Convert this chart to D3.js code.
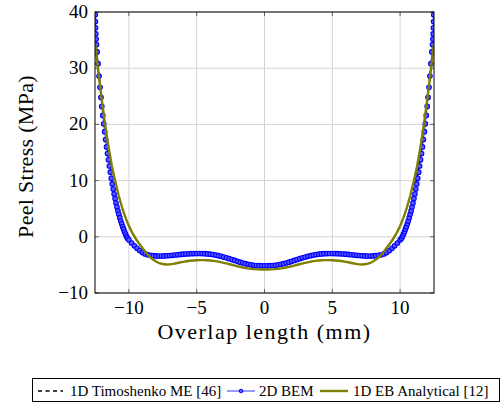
<!DOCTYPE html>
<html lang="en">
<head>
<meta charset="UTF-8">
<title>Peel Stress</title>
<script src="https://cdn.jsdelivr.net/npm/d3@7/dist/d3.min.js"></script>
<style>
body {
    margin: 0;
    background-color: #fff;
}
svg {
    display: block;
    font-family: "Liberation Serif", "DejaVu Serif", serif;
}
</style>
</head>
<body>
<div id="plot"></div>
<script>

// ---- data ----
const xTicks = [-10, -5, 0, 5, 10];
const yTicks = [-10, 0, 10, 20, 30, 40];

// shared x grid for the two analytical curves (mm)
const gridX = [-12.5,-12.25,-12,-11.75,-11.5,-11.25,-11,-10.75,-10.5,-10.25,-10,-9.75,-9.5,-9.25,-9,-8.75,-8.5,-8.25,-8,-7.75,-7.5,-7.25,-7,-6.75,-6.5,-6.25,-6,-5.75,-5.5,-5.25,-5,-4.75,-4.5,-4.25,-4,-3.75,-3.5,-3.25,-3,-2.75,-2.5,-2.25,-2,-1.75,-1.5,-1.25,-1,-0.75,-0.5,-0.25,
    0,0.25,0.5,0.75,1,1.25,1.5,1.75,2,2.25,2.5,2.75,3,3.25,3.5,3.75,4,4.25,4.5,4.75,5,5.25,5.5,5.75,6,6.25,6.5,6.75,7,7.25,7.5,7.75,8,8.25,8.5,8.75,9,9.25,9.5,9.75,10,10.25,10.5,10.75,11,11.25,11.5,11.75,12,12.25,12.5];

// 1D Timoshenko ME [46] (MPa)
const timoshenko = [35.0,29.9,24.2,19.3,14.8,10.8,7.4,4.7,2.6,1.0,-0.2,-1.05,-1.75,-2.3,-2.72,-3.02,-3.22,-3.33,-3.4,-3.42,-3.41,-3.38,-3.33,-3.27,-3.21,-3.15,-3.1,-3.05,-3.01,-2.98,-2.97,-2.97,-2.99,-3.02,-3.1,-3.19,-3.3,-3.43,-3.6,-3.79,-3.97,-4.17,-4.37,-4.56,-4.73,-4.87,-4.99,-5.08,-5.13,-5.16,
    -5.17,-5.16,-5.13,-5.08,-4.99,-4.87,-4.73,-4.56,-4.37,-4.17,-3.97,-3.79,-3.6,-3.43,-3.3,-3.19,-3.1,-3.02,-2.99,-2.97,-2.97,-2.98,-3.01,-3.05,-3.1,-3.15,-3.21,-3.27,-3.33,-3.38,-3.41,-3.42,-3.4,-3.33,-3.22,-3.02,-2.72,-2.3,-1.75,-1.05,-0.2,1.0,2.6,4.7,7.4,10.8,14.8,19.3,24.2,29.9,35.0];

// 1D EB Analytical [12] (MPa)
const ebAnalytical = [34.5,29.2,24.4,19.9,15.9,12.5,9.8,7.3,5.2,3.4,1.9,0.7,-0.3,-1.2,-2.0,-2.8,-3.5,-4.0,-4.4,-4.7,-4.85,-4.92,-4.9,-4.82,-4.7,-4.57,-4.45,-4.35,-4.27,-4.21,-4.17,-4.15,-4.15,-4.17,-4.22,-4.29,-4.38,-4.5,-4.63,-4.78,-4.93,-5.09,-5.24,-5.38,-5.5,-5.61,-5.69,-5.75,-5.79,-5.81,
    -5.82,-5.81,-5.79,-5.75,-5.69,-5.61,-5.5,-5.38,-5.24,-5.09,-4.93,-4.78,-4.63,-4.5,-4.38,-4.29,-4.22,-4.17,-4.15,-4.15,-4.17,-4.21,-4.27,-4.35,-4.45,-4.57,-4.7,-4.82,-4.9,-4.92,-4.85,-4.7,-4.4,-4.0,-3.5,-2.8,-2.0,-1.2,-0.3,0.7,1.9,3.4,5.2,7.3,9.8,12.5,15.9,19.9,24.4,29.2,34.5];

// 2D BEM nodes (mm) and values (MPa)
const bemX = [-12.5,-12.495,-12.49,-12.485,-12.48,-12.47,-12.46,-12.44,-12.42,-12.39,-12.34,-12.27,-12.2,-12.13,-12.06,-12,-11.93,-11.86,-11.79,-11.72,-11.65,-11.58,-11.51,-11.44,-11.37,-11.3,-11.23,-11.16,-11.09,-11.02,-10.95,-10.88,-10.81,-10.74,-10.67,-10.6,-10.53,-10.46,-10.39,-10.32,-10.25,-10.18,-10.11,
    -10,-9.8,-9.6,-9.4,-9.2,-9,-8.8,-8.6,-8.4,-8.2,-8,-7.8,-7.6,-7.4,-7.2,-7,-6.8,-6.6,-6.4,-6.2,-6,-5.8,-5.6,-5.4,-5.2,-5,-4.8,-4.6,-4.4,-4.2,-4,-3.8,-3.6,-3.4,-3.2,-3,-2.8,-2.6,-2.4,-2.2,-2,-1.8,-1.6,-1.4,-1.2,-1,-0.8,-0.6,-0.4,-0.2,
    0,0.2,0.4,0.6,0.8,1,1.2,1.4,1.6,1.8,2,2.2,2.4,2.6,2.8,3,3.2,3.4,3.6,3.8,4,4.2,4.4,4.6,4.8,5,5.2,5.4,5.6,5.8,6,6.2,6.4,6.6,6.8,7,7.2,7.4,7.6,7.8,8,8.2,8.4,8.6,8.8,9,9.2,9.4,9.6,9.8,10,
    10.11,10.18,10.25,10.32,10.39,10.46,10.53,10.6,10.67,10.74,10.81,10.88,10.95,11.02,11.09,11.16,11.23,11.3,11.37,11.44,11.51,11.58,11.65,11.72,11.79,11.86,11.93,12,12.06,12.13,12.2,12.27,12.34,12.39,12.42,12.44,12.46,12.47,12.48,12.485,12.49,12.495,12.5];
const bemY = [55,47,43.5,41,39.5,38.3,37.2,36.1,35.2,34.2,32.9,30.8,28.6,26.6,24.8,23.2,21.6,20.1,18.7,17.3,16.0,14.8,13.7,12.6,11.5,10.4,9.4,8.5,7.6,6.8,6.0,5.3,4.6,4.0,3.4,2.8,2.3,1.8,1.35,0.9,0.5,0.1,-0.25,
    -0.55,-1.1,-1.6,-2.05,-2.45,-2.8,-3.05,-3.2,-3.3,-3.35,-3.4,-3.42,-3.42,-3.4,-3.37,-3.33,-3.29,-3.24,-3.19,-3.14,-3.1,-3.06,-3.03,-3.0,-2.98,-2.97,-2.97,-2.98,-3.0,-3.04,-3.1,-3.17,-3.25,-3.35,-3.47,-3.6,-3.74,-3.89,-4.05,-4.21,-4.37,-4.52,-4.66,-4.79,-4.9,-4.99,-5.06,-5.11,-5.14,-5.16,
    -5.17,-5.16,-5.14,-5.11,-5.06,-4.99,-4.9,-4.79,-4.66,-4.52,-4.37,-4.21,-4.05,-3.89,-3.74,-3.6,-3.47,-3.35,-3.25,-3.17,-3.1,-3.04,-3.0,-2.98,-2.97,-2.97,-2.98,-3.0,-3.03,-3.06,-3.1,-3.14,-3.19,-3.24,-3.29,-3.33,-3.37,-3.4,-3.42,-3.42,-3.4,-3.35,-3.3,-3.2,-3.05,-2.8,-2.45,-2.05,-1.6,-1.1,-0.55,
    -0.25,0.1,0.5,0.9,1.35,1.8,2.3,2.8,3.4,4.0,4.6,5.3,6.0,6.8,7.6,8.5,9.4,10.4,11.5,12.6,13.7,14.8,16.0,17.3,18.7,20.1,21.6,23.2,24.8,26.6,28.6,30.8,32.9,34.2,35.2,36.1,37.2,38.3,39.5,41,43.5,47,55];

const legendLabels = ["1D Timoshenko ME [46]", "2D BEM", "1D EB Analytical [12]"];

// ---- layout ----
const w = 502,
      h = 408;
const pLeft = 95, pRight = 434, pTop = 12, pBottom = 293;

const svg = d3.select("#plot").append("svg")
    .attr("width", w)
    .attr("height", h);

const x = d3.scaleLinear().domain([-12.5, 12.5]).range([pLeft, pRight]);
const y = d3.scaleLinear().domain([-10, 40]).range([pBottom, pTop]);

const fmt = (d) => d < 0 ? "\u2212" + Math.abs(d) : String(d);

// grid
svg.append("g")
    .selectAll("line")
    .data(xTicks)
    .join("line")
    .attr("x1", d => x(d)).attr("x2", d => x(d))
    .attr("y1", pTop).attr("y2", pBottom)
    .attr("stroke", "#d4d4d4");
svg.append("g")
    .selectAll("line")
    .data(yTicks)
    .join("line")
    .attr("x1", pLeft).attr("x2", pRight)
    .attr("y1", d => y(d)).attr("y2", d => y(d))
    .attr("stroke", "#d4d4d4");

// inward ticks on all four sides
const tk = svg.append("g").attr("stroke", "#666");
xTicks.forEach(d => {
    tk.append("line").attr("x1", x(d)).attr("x2", x(d)).attr("y1", pBottom).attr("y2", pBottom - 4);
    tk.append("line").attr("x1", x(d)).attr("x2", x(d)).attr("y1", pTop).attr("y2", pTop + 4);
});
yTicks.forEach(d => {
    tk.append("line").attr("x1", pLeft).attr("x2", pLeft + 4).attr("y1", y(d)).attr("y2", y(d));
    tk.append("line").attr("x1", pRight).attr("x2", pRight - 4).attr("y1", y(d)).attr("y2", y(d));
});

// tick labels
svg.append("g")
    .selectAll("text")
    .data(xTicks)
    .join("text")
    .attr("x", d => x(d))
    .attr("y", pBottom + 21)
    .attr("text-anchor", "middle")
    .attr("font-size", 19)
    .text(fmt);
svg.append("g")
    .selectAll("text")
    .data(yTicks)
    .join("text")
    .attr("x", pLeft - 7)
    .attr("y", d => y(d) + 6)
    .attr("text-anchor", "end")
    .attr("font-size", 19)
    .text(fmt);

// axis titles
svg.append("text")
    .attr("x", (pLeft + pRight) / 2)
    .attr("y", 339)
    .attr("text-anchor", "middle")
    .attr("font-size", 22)
    .attr("letter-spacing", 1.5)
    .text("Overlap length (mm)");
svg.append("text")
    .attr("transform", `translate(33,${(pTop + pBottom) / 2 + 4}) rotate(-90)`)
    .attr("text-anchor", "middle")
    .attr("font-size", 22)
    .attr("letter-spacing", 0.3)
    .text("Peel Stress (MPa)");

// curves, clipped to the plot box
svg.append("clipPath").attr("id", "clip")
    .append("rect")
    .attr("x", pLeft).attr("y", pTop)
    .attr("width", pRight - pLeft).attr("height", pBottom - pTop);

const plot = svg.append("g").attr("clip-path", "url(#clip)");

const line = d3.line()
    .x(d => x(d[0]))
    .y(d => y(d[1]));

plot.append("path")
    .datum(d3.zip(gridX, timoshenko))
    .attr("d", line)
    .attr("fill", "none")
    .attr("stroke", "#000")
    .attr("stroke-width", 1.6)
    .attr("stroke-dasharray", "3.5,3");

const bem = d3.zip(bemX, bemY);
plot.append("path")
    .datum(bem)
    .attr("d", line)
    .attr("fill", "none")
    .attr("stroke", "#0000ff")
    .attr("stroke-width", 0.8);
plot.append("g")
    .selectAll("circle")
    .data(bem)
    .join("circle")
    .attr("cx", d => x(d[0]))
    .attr("cy", d => y(d[1]))
    .attr("r", 2.3)
    .attr("fill", "#5c5cff")
    .attr("stroke", "#0000ff")
    .attr("stroke-width", 1.1);

plot.append("path")
    .datum(d3.zip(gridX, ebAnalytical))
    .attr("d", line)
    .attr("fill", "none")
    .attr("stroke", "#808000")
    .attr("stroke-width", 2.4);

// frame
svg.append("rect")
    .attr("x", pLeft).attr("y", pTop)
    .attr("width", pRight - pLeft).attr("height", pBottom - pTop)
    .attr("fill", "none")
    .attr("stroke", "#000")
    .attr("stroke-width", 1);

// legend
const lg = svg.append("g").attr("font-size", 15);
lg.append("rect")
    .attr("x", 32.5).attr("y", 378.5)
    .attr("width", 467).attr("height", 23)
    .attr("fill", "#fff")
    .attr("stroke", "#000");
const ly = 391;
lg.append("line").attr("x1", 38).attr("x2", 63).attr("y1", ly).attr("y2", ly)
    .attr("stroke", "#000").attr("stroke-width", 1.6).attr("stroke-dasharray", "4,3.5");
lg.append("text").attr("x", 70).attr("y", ly + 5).text(legendLabels[0]);
lg.append("line").attr("x1", 227).attr("x2", 255).attr("y1", ly).attr("y2", ly)
    .attr("stroke", "#0000ff").attr("stroke-width", 0.8);
lg.append("circle").attr("cx", 241).attr("cy", ly).attr("r", 1.8)
    .attr("fill", "#5c5cff").attr("stroke", "#0000ff");
lg.append("text").attr("x", 259).attr("y", ly + 5).text(legendLabels[1]);
lg.append("line").attr("x1", 320).attr("x2", 348).attr("y1", ly).attr("y2", ly)
    .attr("stroke", "#808000").attr("stroke-width", 2.4);
lg.append("text").attr("x", 353).attr("y", ly + 5).text(legendLabels[2]);

</script>
</body>
</html>
